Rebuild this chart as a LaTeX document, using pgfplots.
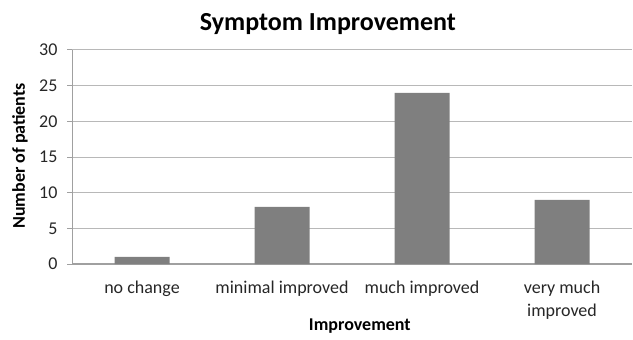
\documentclass[border=0pt]{standalone}
\usepackage{fontspec}
\setmainfont{Carlito}
\usepackage{pgfplots}
\pgfplotsset{compat=1.18}
\definecolor{barc}{RGB}{127,127,127}
\definecolor{gridc}{RGB}{184,184,184}
\definecolor{axc}{RGB}{160,160,160}
\begin{document}
\begin{tikzpicture}[x=1bp,y=1bp]
\useasboundingbox (0,0) rectangle (633,339);
\begin{axis}[
  at={(72bp,75bp)}, anchor=south west,
  scale only axis, width=560bp, height=214bp,
  xmin=-0.5, xmax=3.5, ymin=0, ymax=30,
  ytick={0,5,...,30},
  xtick={0,1,2,3},
  xticklabels={no change,minimal improved,much improved,{very much\\improved}},
  axis x line*=bottom, axis y line*=left,
  x axis line style={draw=axc, line width=2bp, -},
  y axis line style={draw=axc, line width=1bp, -},
  ymajorgrids, grid style={draw=gridc, line width=1bp},
  major x tick style={draw=none},
  major y tick style={draw=axc, line width=1bp},
  tick align=outside, major tick length=5bp,
  /pgf/number format/assume math mode=true,
  tick label style={font=\fontsize{18bp}{23bp}\selectfont, text=black!85},
  xticklabel style={align=center, yshift=-8bp},
  yticklabel style={xshift=-6bp},
  title={\textbf{Symptom Improvement}},
  title style={at={(axis description cs:0.457,1)}, anchor=center, yshift=20bp, font=\fontsize{26bp}{30bp}\selectfont},
  xlabel={\textbf{Improvement}},
  xlabel style={at={(axis description cs:0.514,0)}, anchor=center, yshift=-62bp, font=\fontsize{18bp}{22bp}\selectfont},
  ylabel={\textbf{Number of patients}},
  every axis y label/.style={at={(axis description cs:-0.093,0.505)}, anchor=center, rotate=90, font=\fontsize{18bp}{22bp}\selectfont},
  ybar, bar width=55bp,
]
\addplot[fill=barc, draw=none] coordinates {(0,1) (1,8) (2,24) (3,9)};
\end{axis}
\end{tikzpicture}
\end{document}
